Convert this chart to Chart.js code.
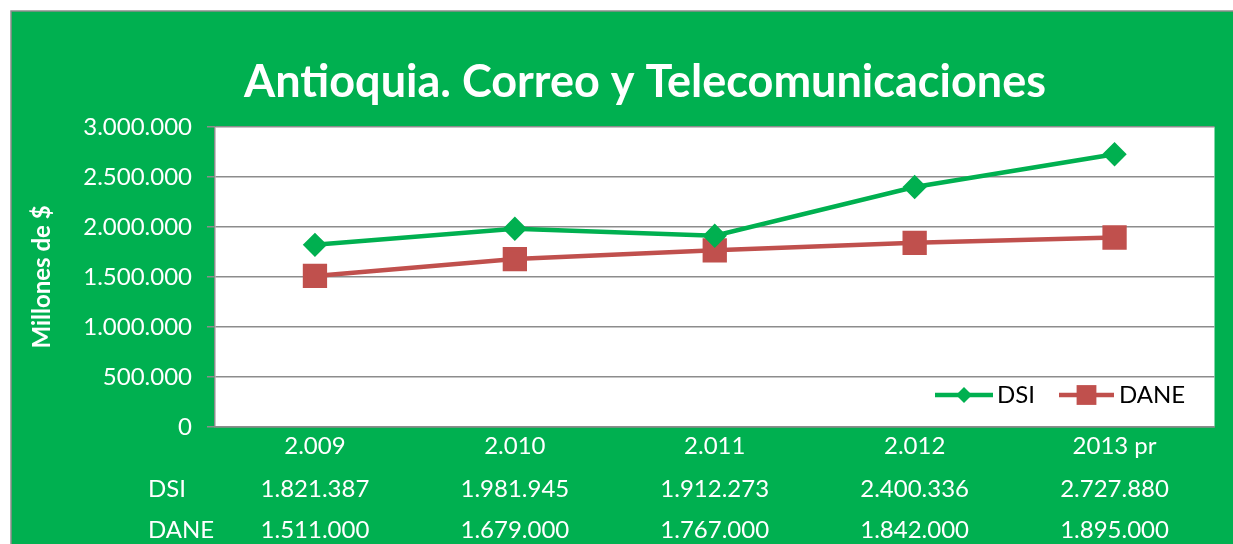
<!DOCTYPE html>
<html>
<head>
<meta charset="utf-8">
<script src="https://cdn.jsdelivr.net/npm/chart.js@4"></script>
<style>
  html, body { margin: 0; padding: 0; background: #fff; }
  canvas { display: block; }
</style>
</head>
<body>
<canvas id="chart" width="1233" height="544"></canvas>
<script>
// Chart data
const years = ["2.009", "2.010", "2.011", "2.012", "2013 pr"];
const dsi = [1821387, 1981945, 1912273, 2400336, 2727880];
const dane = [1511000, 1679000, 1767000, 1842000, 1895000];
const yTicks = [0, 500000, 1000000, 1500000, 2000000, 2500000, 3000000];

const GREEN = "#00B050";
const RED = "#C0504D";
const FONT = "Lato, 'Open Sans', sans-serif";

// 1234567 -> "1.234.567"
function fmt(v) {
    return String(v).replace(/\B(?=(\d{3})+(?!\d))/g, ".");
}

// Green frame, white plot area and chart title
const frame = {
    id: "frame",
    beforeDraw(chart) {
        const { ctx, chartArea: a } = chart;
        ctx.save();
        ctx.fillStyle = "#fff";
        ctx.fillRect(0, 0, chart.width, chart.height);
        ctx.fillStyle = GREEN;
        ctx.fillRect(11, 11, chart.width - 11, chart.height - 11);
        ctx.strokeStyle = "#8c8c8c";
        ctx.lineWidth = 1.5;
        ctx.beginPath();
        ctx.moveTo(11, chart.height);
        ctx.lineTo(11, 11);
        ctx.lineTo(chart.width, 11);
        ctx.stroke();
        ctx.fillStyle = "#fff";
        ctx.fillRect(a.left, a.top, a.right - a.left, a.bottom - a.top);

        ctx.font = "bold 45px " + FONT;
        ctx.textAlign = "center";
        ctx.textBaseline = "middle";
        ctx.fillText("Antioquia. Correo y Telecomunicaciones", 645, 82);
        ctx.restore();
    }
};

// Data table under the x axis and the legend inside the plot
const extras = {
    id: "extras",
    afterDraw(chart) {
        const { ctx } = chart;
        const x = chart.scales.x;
        ctx.save();
        ctx.font = "24px " + FONT;
        ctx.textBaseline = "middle";
        ctx.fillStyle = "#fff";

        const rows = [["DSI", dsi, 489], ["DANE", dane, 530]];
        rows.forEach(([name, vals, y]) => {
            ctx.textAlign = "left";
            ctx.fillText(name, 148, y);
            ctx.textAlign = "center";
            vals.forEach((v, i) => ctx.fillText(fmt(v), x.getPixelForValue(i), y));
        });

        // legend
        const ly = 395;
        const items = [
            { label: "DSI", color: GREEN, style: "rectRot", r: 8, x0: 935, x1: 993, tx: 997 },
            { label: "DANE", color: RED, style: "rect", r: 14, x0: 1059, x1: 1114, tx: 1119 }
        ];
        items.forEach(it => {
            ctx.strokeStyle = it.color;
            ctx.fillStyle = it.color;
            ctx.lineWidth = 4.5;
            ctx.beginPath();
            ctx.moveTo(it.x0, ly);
            ctx.lineTo(it.x1, ly);
            ctx.stroke();
            Chart.helpers.drawPoint(ctx, { pointStyle: it.style, radius: it.r, borderWidth: 0 },
                (it.x0 + it.x1) / 2, ly);
            ctx.fillStyle = "#000";
            ctx.textAlign = "left";
            ctx.fillText(it.label, it.tx, ly);
        });
        ctx.restore();
    }
};

new Chart(document.getElementById("chart"), {
    type: "line",
    data: {
        labels: years,
        datasets: [
            {
                label: "DSI",
                data: dsi,
                borderColor: GREEN,
                backgroundColor: GREEN,
                borderWidth: 4.5,
                pointStyle: "rectRot",
                pointRadius: 9,
                pointHoverRadius: 9,
                tension: 0
            },
            {
                label: "DANE",
                data: dane,
                borderColor: RED,
                backgroundColor: RED,
                borderWidth: 4.5,
                pointStyle: "rect",
                pointRadius: 14,
                pointHoverRadius: 14,
                tension: 0
            }
        ]
    },
    options: {
        responsive: false,
        animation: false,
        devicePixelRatio: 1,
        layout: { padding: { top: 127, right: 18, bottom: 0, left: 0 } },
        plugins: {
            legend: { display: false },
            tooltip: { enabled: false }
        },
        scales: {
            x: {
                offset: true,
                afterFit(scale) { scale.height = 117; },
                grid: { display: false, drawTicks: false },
                border: { display: true, color: "#8c8c8c", width: 1.5 },
                ticks: { color: "#fff", font: { family: FONT, size: 24 }, padding: 5 }
            },
            y: {
                min: 0,
                max: 3000000,
                afterFit(scale) { scale.width = 215; },
                afterBuildTicks(scale) { scale.ticks = yTicks.map(v => ({ value: v })); },
                grid: { color: "#8c8c8c", lineWidth: 1.5, tickLength: 8 },
                border: { display: true, color: "#8c8c8c", width: 1.5 },
                ticks: {
                    color: "#fff",
                    font: { family: FONT, size: 24 },
                    padding: 15,
                    callback: v => fmt(v)
                },
                title: {
                    display: true,
                    text: "Millones de $",
                    color: "#fff",
                    font: { family: FONT, size: 24, weight: "bold" },
                    padding: { top: 28, bottom: 0 }
                }
            }
        }
    },
    plugins: [frame, extras]
});
</script>
</body>
</html>
